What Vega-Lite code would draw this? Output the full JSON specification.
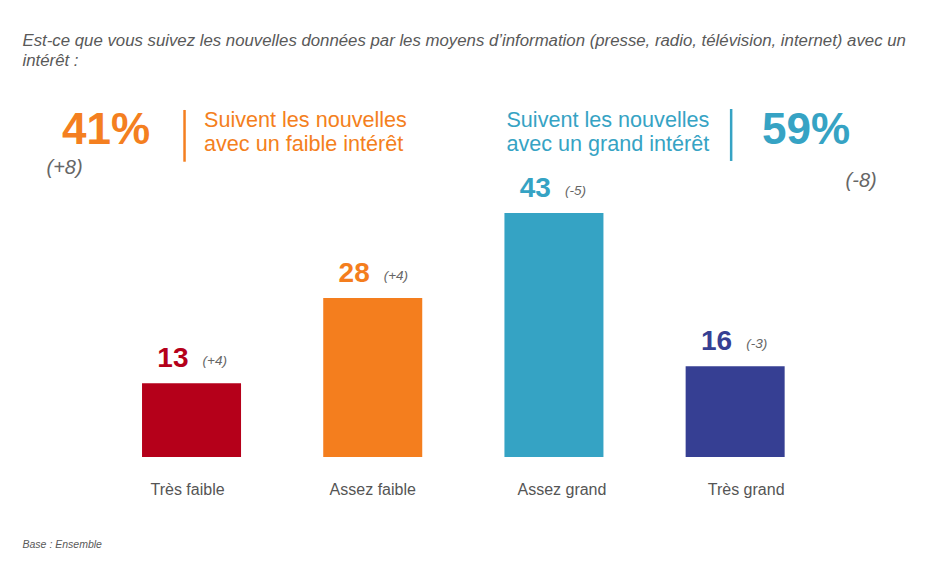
{
  "$schema": "https://vega.github.io/schema/vega-lite/v6.json",
  "width": 941,
  "height": 588,
  "autosize": {"type": "none"},
  "padding": 0,
  "background": "white",
  "config": {"view": {"stroke": null}, "font": "Liberation Sans"},
  "datasets": {
    "barres": [
      {"categorie": "Très faible", "valeur": 13, "evolution": "(+4)"},
      {"categorie": "Assez faible", "valeur": 28, "evolution": "(+4)"},
      {"categorie": "Assez grand", "valeur": 43, "evolution": "(-5)"},
      {"categorie": "Très grand", "valeur": 16, "evolution": "(-3)"}
    ],
    "groupes": [
      {"groupe": "faible", "total": "41%", "evolution": "(+8)", "libelle": ["Suivent les nouvelles", "avec un faible intérêt"]},
      {"groupe": "grand", "total": "59%", "evolution": "(-8)", "libelle": ["Suivent les nouvelles", "avec un grand intérêt"]}
    ]
  },
  "encoding": {
    "x": {
      "field": "categorie",
      "type": "nominal",
      "sort": ["Très faible", "Assez faible", "Assez grand", "Très grand"],
      "scale": {"domain": ["Très faible", "Assez faible", "Assez grand", "Très grand"], "paddingInner": 0.4536, "paddingOuter": 0.8233, "align": 0.476},
      "axis": {
        "orient": "bottom",
        "offset": -131,
        "domain": false,
        "ticks": false,
        "title": null,
        "labelAngle": 0,
        "labelFont": "Liberation Sans",
        "labelFontSize": 16,
        "labelColor": "#555555",
        "labelPadding": 24,
        "labelOffset": {"condition": [{"test": "datum.value == 'Très faible'", "value": -4}, {"test": "datum.value == 'Assez grand'", "value": 8}, {"test": "datum.value == 'Très grand'", "value": 11}], "value": 0}
      }
    }
  },
  "layer": [
    {
      "data": {"name": "barres"},
      "mark": {"type": "bar"},
      "encoding": {
        "y": {"field": "valeur", "type": "quantitative", "scale": {"domain": [-23.09, 80.54], "nice": false, "zero": false}, "axis": null},
        "color": {"field": "categorie", "type": "nominal", "scale": {"domain": ["Très faible", "Assez faible", "Assez grand", "Très grand"], "range": ["#B5001A", "#F47E1E", "#35A3C4", "#363F93"]}, "legend": null}
      }
    },
    {
      "data": {"name": "barres"},
      "mark": {"type": "text", "align": "right", "baseline": "alphabetic", "dx": -3, "dy": -16, "fontSize": 28, "fontWeight": "bold", "font": "Liberation Sans"},
      "encoding": {
        "y": {"field": "valeur", "type": "quantitative"},
        "text": {"field": "valeur", "type": "quantitative"},
        "color": {"field": "categorie", "type": "nominal", "legend": null}
      }
    },
    {
      "data": {"name": "barres"},
      "mark": {"type": "text", "align": "left", "baseline": "alphabetic", "dx": 11, "dy": -18, "fontSize": 13.5, "fontStyle": "italic", "color": "#666666", "font": "Liberation Sans"},
      "encoding": {
        "y": {"field": "valeur", "type": "quantitative"},
        "text": {"field": "evolution", "type": "nominal"}
      }
    },
    {
      "data": {"name": "groupes"},
      "transform": [{"filter": "datum.groupe == 'faible'"}],
      "mark": {"type": "text", "align": "center", "baseline": "alphabetic", "dx": -85.5, "fontSize": 44, "fontWeight": "bold", "color": "#F47F20", "font": "Liberation Sans"},
      "encoding": {"x": {"datum": "Très faible"}, "y": {"datum": 55.11}, "text": {"field": "total"}}
    },
    {
      "data": {"name": "groupes"},
      "transform": [{"filter": "datum.groupe == 'faible'"}],
      "mark": {"type": "text", "align": "center", "baseline": "alphabetic", "dx": -127, "fontSize": 20, "fontStyle": "italic", "color": "#666666", "font": "Liberation Sans"},
      "encoding": {"x": {"datum": "Très faible"}, "y": {"datum": 49.8}, "text": {"field": "evolution"}}
    },
    {
      "data": {"name": "groupes"},
      "transform": [{"filter": "datum.groupe == 'faible'"}],
      "mark": {"type": "rule", "xOffset": -7, "strokeWidth": 2.5, "color": "#F47F20"},
      "encoding": {"x": {"datum": "Très faible"}, "y": {"datum": 61.16}, "y2": {"datum": 52.04}}
    },
    {
      "data": {"name": "groupes"},
      "transform": [{"filter": "datum.groupe == 'faible'"}],
      "mark": {"type": "text", "align": "left", "baseline": "alphabetic", "dx": 12.5, "fontSize": 21.6, "lineHeight": 24.5, "color": "#F47F20", "font": "Liberation Sans"},
      "encoding": {"x": {"datum": "Très faible"}, "y": {"datum": 58.16}, "text": {"field": "libelle"}}
    },
    {
      "data": {"name": "groupes"},
      "transform": [{"filter": "datum.groupe == 'grand'"}],
      "mark": {"type": "text", "align": "left", "baseline": "alphabetic", "dx": -47.5, "fontSize": 21.6, "lineHeight": 24.5, "color": "#36A3C4", "font": "Liberation Sans"},
      "encoding": {"x": {"datum": "Assez grand"}, "y": {"datum": 58.16}, "text": {"field": "libelle"}}
    },
    {
      "data": {"name": "groupes"},
      "transform": [{"filter": "datum.groupe == 'grand'"}],
      "mark": {"type": "rule", "xOffset": -4, "strokeWidth": 2.5, "color": "#36A3C4"},
      "encoding": {"x": {"datum": "Très grand"}, "y": {"datum": 61.33}, "y2": {"datum": 52.17}}
    },
    {
      "data": {"name": "groupes"},
      "transform": [{"filter": "datum.groupe == 'grand'"}],
      "mark": {"type": "text", "align": "center", "baseline": "alphabetic", "dx": 71, "fontSize": 44, "fontWeight": "bold", "color": "#36A3C4", "font": "Liberation Sans"},
      "encoding": {"x": {"datum": "Très grand"}, "y": {"datum": 55.16}, "text": {"field": "total"}}
    },
    {
      "data": {"name": "groupes"},
      "transform": [{"filter": "datum.groupe == 'grand'"}],
      "mark": {"type": "text", "align": "center", "baseline": "alphabetic", "dx": 126, "fontSize": 20, "fontStyle": "italic", "color": "#666666", "font": "Liberation Sans"},
      "encoding": {"x": {"datum": "Très grand"}, "y": {"datum": 47.67}, "text": {"field": "evolution"}}
    },
    {
      "data": {"values": [{"texte": ["Est-ce que vous suivez les nouvelles données par les moyens d’information (presse, radio, télévision, internet) avec un", "intérêt :"]}]},
      "mark": {"type": "text", "align": "left", "baseline": "alphabetic", "dx": -169, "fontSize": 16.8, "lineHeight": 20.5, "fontStyle": "italic", "color": "#595959", "font": "Liberation Sans"},
      "encoding": {"x": {"datum": "Très faible"}, "y": {"datum": 72.44}, "text": {"field": "texte"}}
    },
    {
      "data": {"values": [{"texte": "Base : Ensemble"}]},
      "mark": {"type": "text", "align": "left", "baseline": "alphabetic", "dx": -169, "fontSize": 10.5, "fontStyle": "italic", "color": "#595959", "font": "Liberation Sans"},
      "encoding": {"x": {"datum": "Très faible"}, "y": {"datum": -16.04}, "text": {"field": "texte"}}
    }
  ]
}
